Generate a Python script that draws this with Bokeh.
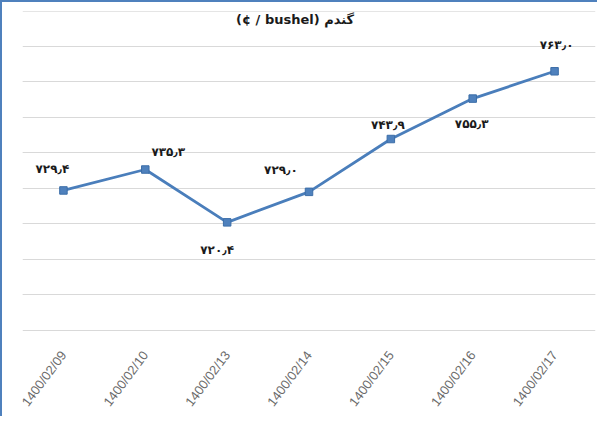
from bokeh.plotting import figure
from bokeh.models import Range1d, FactorRange, Grid, FixedTicker, Label, ColumnDataSource
from bokeh.core.properties import value
from bokeh.embed import file_html
from bokeh.resources import INLINE

# ---- data ----
dates = ["1400/02/09", "1400/02/10", "1400/02/13", "1400/02/14",
         "1400/02/15", "1400/02/16", "1400/02/17"]
prices = [729.4, 735.3, 720.4, 729.0, 743.9, 755.3, 763.0]
title_text = "(¢ / bushel) گندم"
y_ticks = [690, 700, 710, 720, 730, 740, 750, 760, 770]

# label offsets (pixels) relative to each point
lab_dx = [-11, 23, -10, -28, -3, -1, 2]
lab_dy = [-21, -18, 28, -22, -14, 25, -26]

fa_digits = str.maketrans("0123456789.", "۰۱۲۳۴۵۶۷۸۹٫")
labels = [f"{v:.1f}".translate(fa_digits) for v in prices]

BLUE = "#4F81BD"

p = figure(x_range=FactorRange(*dates), y_range=Range1d(686.8, 782.4),
           width=597, height=416, output_backend="svg", toolbar_location=None,
           y_axis_location=None, min_border_left=20, min_border_right=4,
           min_border_top=0, min_border_bottom=77)
p.styles = {"border-left": f"2px solid {BLUE}", "border-top": f"2px solid {BLUE}"}
p.outline_line_color = None
p.background_fill_color = "white"
p.border_fill_color = "white"
p.xgrid.visible = False
p.add_layout(Grid(dimension=1, ticker=FixedTicker(ticks=y_ticks),
                  grid_line_color="#D9D9D9", grid_line_width=1))

xa = p.xaxis[0]
xa.axis_line_color = None
xa.major_tick_line_color = None
xa.minor_tick_line_color = None
xa.major_label_orientation = 0.93
xa.major_label_text_font = "Liberation Sans"
xa.major_label_text_font_size = "13px"
xa.major_label_text_color = "#6a6a6a"
xa.major_label_standoff = 5

src = ColumnDataSource(dict(x=dates, y=prices, lab=labels, dx=lab_dx, dy=lab_dy))
p.line("x", "y", source=src, line_color="#4A7EBB", line_width=2.8)
p.scatter("x", "y", source=src, marker="square", size=7.5,
          fill_color=BLUE, line_color="#3C6EA8", line_width=1)
p.text("x", "y", text="lab", source=src, x_offset="dx", y_offset="dy",
       text_align="center", text_baseline="middle",
       text_font=value("DejaVu Sans"), text_font_style="bold",
       text_font_size="12px", text_color="#1a1a1a")

title = Label(x=3.33, y=777.6, text=title_text, text_align="center",
              text_baseline="middle", text_font="DejaVu Sans",
              text_font_style="bold", text_font_size="13px", text_color="#1a1a1a")
p.add_layout(title)

open("out.html", "w").write(file_html(p, INLINE))
